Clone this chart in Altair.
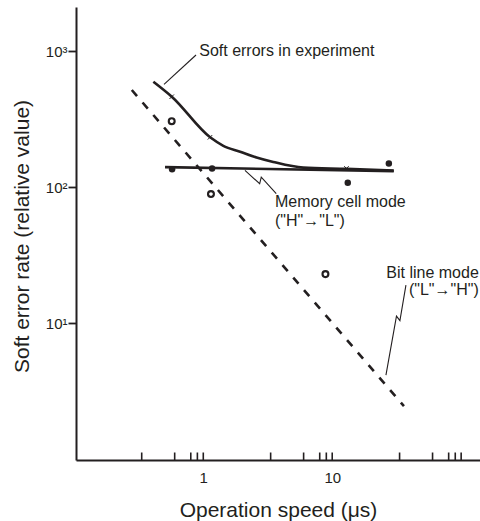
import altair as alt
import pandas as pd

# ---- data (log-log axes) ----
# Soft errors in experiment (solid curve)
exp_x = [0.41, 0.57, 1.13, 1.43, 1.93, 2.59, 3.49, 5.96, 12.9, 30.0]
exp_y = [594, 461, 232, 201, 182, 165, 153, 139, 136, 132]
# small markers on the experimental curve
exp_mark_x = [0.569, 1.127, 12.9]
exp_mark_y = [461, 232, 137]

# Memory cell mode ("H"->"L"): fitted line and measured points
mem_line_x = [0.505, 30.0]
mem_line_y = [140, 131]
mem_pts_x = [0.573, 1.17, 13.2, 27.5]
mem_pts_y = [135, 137, 107.6, 149]

# Bit line mode ("L"->"H"): fitted dashed line and measured points
bit_line_x = [0.279, 36.0]
bit_line_y = [517, 2.45]
bit_pts_x = [0.569, 1.147, 8.86]
bit_pts_y = [305, 88.8, 22.9]

# annotation leader lines (data coordinates)
lead_soft_x = [0.496, 0.878]
lead_soft_y = [569, 935]
lead_mem_x = [2.105, 2.737, 2.816, 3.68]
lead_mem_y = [132.7, 105.7, 118.4, 89.3]
lead_bit_x = [37.3, 33.5, 31.5, 26.1]
lead_bit_y = [19.0, 10.43, 11.26, 4.15]

# annotation texts (left-aligned group, then right-aligned group)
ann_left_text = ["Soft errors in experiment", "Memory cell mode", '("H"\u2192"L")']
ann_left_x = [0.93, 3.6, 3.6]
ann_left_y = [1000, 78.2, 56.2]
ann_right_text = ["Bit line mode", '("L"\u2192"H")']
ann_right_x = [137, 137]
ann_right_y = [23.5, 17.5]

# axis ticks
x_tick_vals = [0.333, 0.6, 0.8, 0.9, 1, 3.33, 6, 8, 9, 10, 33.3, 60, 80, 90, 100]
x_label_vals = [1, 10]
y_tick_vals = [10, 100, 1000]

INK = "#231f20"
FONT = "Liberation Sans"

xscale = alt.Scale(type="log", domain=[0.103, 140], nice=False)
yscale = alt.Scale(type="log", domain=[0.985, 2106], nice=False)

xaxis = alt.Axis(values=x_label_vals, ticks=False, tickSize=0, grid=False,
                 labelFont=FONT, labelFontSize=15, labelColor=INK, labelPadding=10,
                 domainColor=INK, domainWidth=2, format="~g",
                 title="Operation speed (\u03bcs)", titleFont=FONT, titleFontSize=21,
                 titleFontWeight="normal", titleColor=INK,
                 titleBaseline="alphabetic", titleY=56)
yaxis = alt.Axis(values=y_tick_vals, grid=False, tickSize=8, tickWidth=1.8, tickColor=INK,
                 labelExpr="datum.value == 10 ? '10\u00b9' : datum.value == 100 ? '10\u00b2' : '10\u00b3'",
                 labelFont=FONT, labelFontSize=15, labelColor=INK, labelPadding=1,
                 domainColor=INK, domainWidth=2,
                 title="Soft error rate (relative value)", titleFont=FONT, titleFontSize=21,
                 titleFontWeight="normal", titleColor=INK,
                 titleBaseline="alphabetic", titleX=-48, titleY=229)


def X():
    return alt.X("x:Q", scale=xscale, axis=xaxis)


def Y():
    return alt.Y("y:Q", scale=yscale, axis=yaxis)


exp_df = pd.DataFrame({"x": exp_x, "y": exp_y})
exp_mark_df = pd.DataFrame({"x": exp_mark_x, "y": exp_mark_y})
mem_line_df = pd.DataFrame({"x": mem_line_x, "y": mem_line_y})
mem_pts_df = pd.DataFrame({"x": mem_pts_x, "y": mem_pts_y})
bit_line_df = pd.DataFrame({"x": bit_line_x, "y": bit_line_y})
bit_pts_df = pd.DataFrame({"x": bit_pts_x, "y": bit_pts_y})

lead_rows = []
for g, (lx, ly) in enumerate([(lead_soft_x, lead_soft_y), (lead_mem_x, lead_mem_y),
                              (lead_bit_x, lead_bit_y)]):
    for o, (a, b) in enumerate(zip(lx, ly)):
        lead_rows.append({"x": a, "y": b, "g": g, "o": o})
lead_df = pd.DataFrame(lead_rows)
annl_df = pd.DataFrame({"x": ann_left_x, "y": ann_left_y, "t": ann_left_text})
annr_df = pd.DataFrame({"x": ann_right_x, "y": ann_right_y, "t": ann_right_text})
xt_df = pd.DataFrame({"x": x_tick_vals})

exp_line = alt.Chart(exp_df).mark_line(color=INK, strokeWidth=2.6, interpolate="monotone").encode(x=X(), y=Y())
exp_marks = alt.Chart(exp_mark_df).mark_point(shape="M-1,-1L1,1M-1,1L1,-1", size=20, strokeWidth=1,
                                              color=INK, filled=False, opacity=1).encode(x=X(), y=Y())
mem_line = alt.Chart(mem_line_df).mark_line(color=INK, strokeWidth=2.6).encode(x=X(), y=Y())
bit_line = alt.Chart(bit_line_df).mark_line(color=INK, strokeWidth=2.6, strokeDash=[8, 8.5]).encode(x=X(), y=Y())
mem_pts = alt.Chart(mem_pts_df).mark_circle(color=INK, size=42, opacity=1).encode(x=X(), y=Y())
bit_pts = alt.Chart(bit_pts_df).mark_point(shape="circle", filled=False, color=INK, size=34,
                                           strokeWidth=2.2, opacity=1).encode(x=X(), y=Y())
leaders = alt.Chart(lead_df).mark_line(color=INK, strokeWidth=1.1).encode(
    x=X(), y=Y(), detail="g:N", order="o:Q")
texts_l = alt.Chart(annl_df).mark_text(align="left", baseline="middle", font=FONT, fontSize=16,
                                       color=INK).encode(x=X(), y=Y(), text="t:N")
texts_r = alt.Chart(annr_df).mark_text(align="right", baseline="middle", font=FONT, fontSize=16,
                                       color=INK).encode(x=X(), y=Y(), text="t:N")
xticks = alt.Chart(xt_df).mark_rule(color=INK, strokeWidth=1.6).encode(
    x=X(), y=alt.value(453), y2=alt.value(445.5))

chart = alt.layer(xticks, bit_line, exp_line, mem_line, leaders, exp_marks, mem_pts, bit_pts,
                  texts_l, texts_r).properties(
    width=404, height=453,
    padding={"left": 76, "top": 7, "right": 0, "bottom": 61},
    autosize=alt.AutoSizeParams(type="none"),
    background="white",
).configure_view(stroke=None)

chart.save("out.html", embed_options={"renderer": "svg", "actions": False})
